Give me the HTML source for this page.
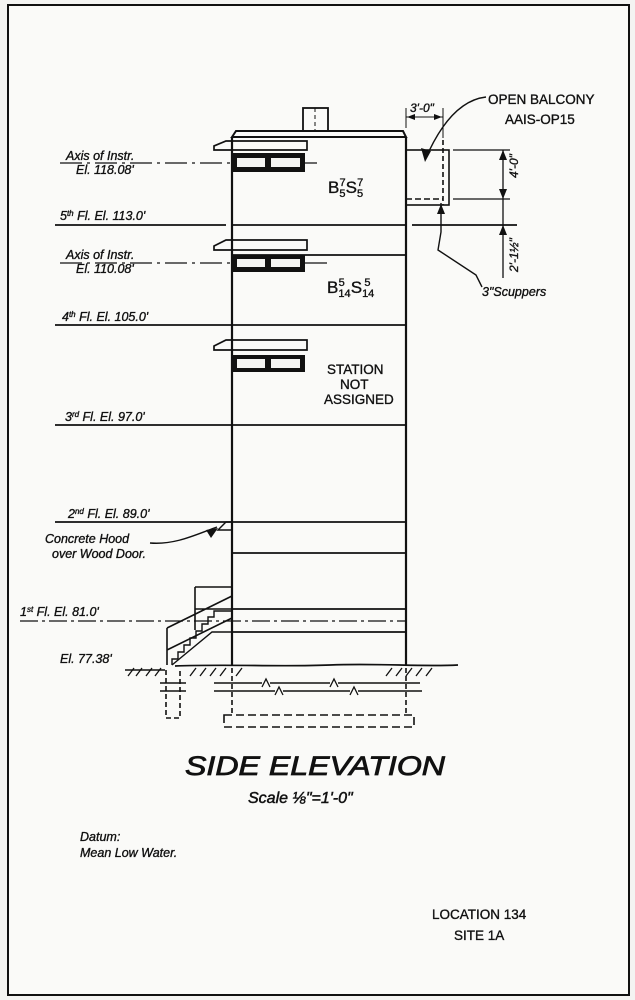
<!DOCTYPE html>
<html><head><meta charset="utf-8"><style>
html,body{margin:0;padding:0;background:#f4f4f2;}
svg{display:block}
text{font-family:"Liberation Sans",sans-serif;fill:#111;stroke:#111;stroke-width:0.35}
.i{font-style:italic}
</style></head><body>
<svg width="635" height="1000" viewBox="0 0 635 1000" xmlns="http://www.w3.org/2000/svg">
<rect x="0" y="0" width="635" height="1000" fill="#f4f4f2"/>
<rect x="8" y="5" width="621" height="990" fill="#fafaf8" stroke="#111" stroke-width="2"/>
<g stroke="#111" fill="none" stroke-width="1.8">
<rect x="303" y="108" width="25" height="23"/>
<line x1="315" y1="108" x2="315" y2="131" stroke-dasharray="4,3" stroke-width="1"/>
<path d="M232 137 L236 131 L403 131 L406 137 Z" stroke-width="2"/>
<line x1="232" y1="137" x2="232" y2="665" stroke-width="2.2"/>
<line x1="406" y1="137" x2="406" y2="665" stroke-width="2.2"/>
<line x1="232" y1="225" x2="406" y2="225"/>
<line x1="55" y1="225" x2="226" y2="225"/>
<line x1="412" y1="225" x2="517" y2="225"/>
<line x1="232" y1="255" x2="406" y2="255"/>
<line x1="55" y1="325" x2="406" y2="325"/>
<line x1="55" y1="425" x2="406" y2="425"/>
<line x1="55" y1="522" x2="406" y2="522"/>
<line x1="232" y1="553" x2="406" y2="553"/>
<line x1="232" y1="609" x2="406" y2="609"/>
<line x1="20" y1="621" x2="406" y2="621" stroke-dasharray="18,4,3,4" stroke-width="1.3"/>
<line x1="232" y1="632" x2="406" y2="632"/>
<line x1="60" y1="163" x2="317" y2="163" stroke-dasharray="22,5,3,5" stroke-width="1.3"/>
<line x1="60" y1="263" x2="327" y2="263" stroke-dasharray="22,5,3,5" stroke-width="1.3"/>
<path d="M214 150 L214 146 L226 141 L307 141 L307 150 Z" stroke-width="1.7"/>
<path d="M214 250 L214 246 L226 240 L307 240 L307 250 Z" stroke-width="1.7"/>
<path d="M214 350 L214 346 L226 340 L307 340 L307 350 Z" stroke-width="1.7"/>
</g>
<g fill="#111">
<rect x="232" y="153" width="73" height="19"/>
<rect x="232" y="255" width="73" height="17"/>
<rect x="232" y="355" width="73" height="17"/>
</g>
<g fill="#f4f4f2">
<rect x="237" y="158" width="28" height="9"/><rect x="271" y="158" width="29" height="9"/>
<rect x="237" y="259" width="28" height="8"/><rect x="271" y="259" width="29" height="8"/>
<rect x="237" y="359" width="28" height="9"/><rect x="271" y="359" width="29" height="9"/>
</g>
<g stroke="#111" fill="none" stroke-width="1.6">
<rect x="406" y="150" width="43" height="55"/>
<line x1="443" y1="140" x2="443" y2="205" stroke-dasharray="5,3"/>
<line x1="406" y1="199" x2="443" y2="199" stroke-dasharray="6,3"/>
<line x1="453" y1="150" x2="510" y2="150" stroke-width="1.3"/>
<line x1="453" y1="199" x2="510" y2="199" stroke-width="1.3"/>
<line x1="503" y1="150" x2="503" y2="278" stroke-width="1.3"/>
<line x1="406" y1="108" x2="406" y2="128" stroke-width="1"/>
<line x1="443" y1="108" x2="443" y2="138" stroke-width="1"/>
<line x1="406" y1="117" x2="443" y2="117" stroke-width="1"/>
<path d="M486 97 C460 100 440 125 425 160" stroke-width="1.4"/>
<path d="M441 203 L441 232 L438 250 L476 275 L482 287" stroke-width="1.4"/>
<path d="M218 530 L226 522 L232 522 L232 530 Z" stroke-width="1.4"/>
<path d="M150 543 C175 545 195 535 217 527" stroke-width="1.4"/>
<path d="M167 650 L232 618 M167 628 L232 596 M167 628 L167 665 M195 587 L232 587 M195 587 L195 630 M195 609 L232 609" stroke-width="1.6"/>
<path d="M172 665 L172 659 L178 659 L178 652 L184 652 L184 645 L190 645 L190 638 L196 638 L196 631 L202 631 L202 624 L208 624 L208 617 L214 617 L214 611 L232 611" stroke-width="1.4"/>
<path d="M172 665 L212 632 L232 632" stroke-width="1.4"/>
<path d="M175 666 C230 664 280 667 330 665 C380 663 420 667 458 665" stroke-width="1.7"/>
<path d="M125 670 L165 670" stroke-width="1.5"/>
<path d="M128 676 L134 668 M136 676 L142 668 M146 676 L152 668 M155 676 L161 668 M190 676 L196 668 M200 676 L206 668 M210 676 L216 668 M220 676 L226 668 M236 676 L242 668 M386 676 L392 668 M396 676 L402 668 M406 676 L412 668 M416 676 L422 668 M426 676 L432 668" stroke-width="1.3"/>
<line x1="160" y1="683" x2="186" y2="683"/>
<line x1="160" y1="691" x2="186" y2="691"/>
<path d="M166 670 L166 718 L180 718 L180 670" stroke-dasharray="5,3"/>
<path d="M214 683 L262 683 M270 683 L330 683 M338 683 L420 683" stroke-width="1.4"/>
<path d="M262 687 L266 679 L270 687 M330 687 L334 679 L338 687" stroke-width="1.3"/>
<path d="M214 691 L275 691 M283 691 L350 691 M358 691 L422 691" stroke-width="1.4"/>
<path d="M275 695 L279 687 L283 695 M350 695 L354 687 L358 695" stroke-width="1.3"/>
<line x1="232" y1="668" x2="232" y2="715" stroke-dasharray="5,3"/>
<line x1="406" y1="668" x2="406" y2="715" stroke-dasharray="5,3"/>
<rect x="224" y="715" width="190" height="12" stroke-dasharray="8,4"/>
</g>
<g fill="#111">
<path d="M425 162 L421 148 L431 151 Z"/>
<path d="M441 204 L437 214 L445 214 Z"/>
<path d="M503 150 L499 160 L507 160 Z"/><path d="M503 199 L499 189 L507 189 Z"/>
<path d="M503 225 L499 235 L507 235 Z"/>
<path d="M218 528 L206 530 L211 538 Z"/>
<path d="M407 117 L415 114 L415 120 Z"/><path d="M442 117 L434 114 L434 120 Z"/>
</g>
<g class="i" font-size="12.5">
<text x="66" y="160">Axis of Instr.</text>
<text x="76" y="174">El. 118.08'</text>
<text x="60" y="220">5<tspan font-size="8" dy="-4">th</tspan><tspan dy="4"> Fl. El. 113.0'</tspan></text>
<text x="66" y="259">Axis of Instr.</text>
<text x="76" y="273">El. 110.08'</text>
<text x="62" y="321">4<tspan font-size="8" dy="-4">th</tspan><tspan dy="4"> Fl. El. 105.0'</tspan></text>
<text x="65" y="421">3<tspan font-size="8" dy="-4">rd</tspan><tspan dy="4"> Fl. El. 97.0'</tspan></text>
<text x="68" y="518">2<tspan font-size="8" dy="-4">nd</tspan><tspan dy="4"> Fl. El. 89.0'</tspan></text>
<text x="45" y="543">Concrete Hood</text>
<text x="52" y="558">over Wood Door.</text>
<text x="20" y="616">1<tspan font-size="8" dy="-4">st</tspan><tspan dy="4"> Fl. El. 81.0'</tspan></text>
<text x="60" y="663">El. 77.38'</text>
<text x="482" y="296">3"Scuppers</text>
<text x="410" y="112" font-size="12">3'-0"</text>
<text x="80" y="841">Datum:</text>
<text x="80" y="857">Mean Low Water.</text>
</g>
<text x="518" y="178" class="i" font-size="12" transform="rotate(-90 518 178)">4'-0"</text>
<text x="518" y="272" class="i" font-size="12" transform="rotate(-90 518 272)">2'-1½"</text>
<g font-size="13.5">
<text x="488" y="104">OPEN BALCONY</text>
<text x="505" y="124">AAIS-OP15</text>
<text x="327" y="374">STATION</text>
<text x="340" y="389">NOT</text>
<text x="324" y="404">ASSIGNED</text>
<text x="432" y="919">LOCATION 134</text>
<text x="454" y="940">SITE 1A</text>
</g>
<g font-size="17">
<text x="328" y="193">B<tspan font-size="11" dy="4">5</tspan><tspan font-size="11" dx="-6" dy="-11">7</tspan><tspan dy="7">S</tspan><tspan font-size="11" dy="4">5</tspan><tspan font-size="11" dx="-6" dy="-11">7</tspan></text>
<text x="327" y="293">B<tspan font-size="11" dy="4">14</tspan><tspan font-size="11" dx="-12" dy="-11">5</tspan><tspan dx="6" dy="7">S</tspan><tspan font-size="11" dy="4">14</tspan><tspan font-size="11" dx="-10" dy="-11">5</tspan></text>
</g>
<text x="185" y="775" class="i" font-size="27" style="stroke-width:0.8" textLength="260" lengthAdjust="spacingAndGlyphs">SIDE ELEVATION</text>
<text x="248" y="803" class="i" font-size="16" style="stroke-width:0.5">Scale ⅛"=1'-0"</text>
</svg>
</body></html>
